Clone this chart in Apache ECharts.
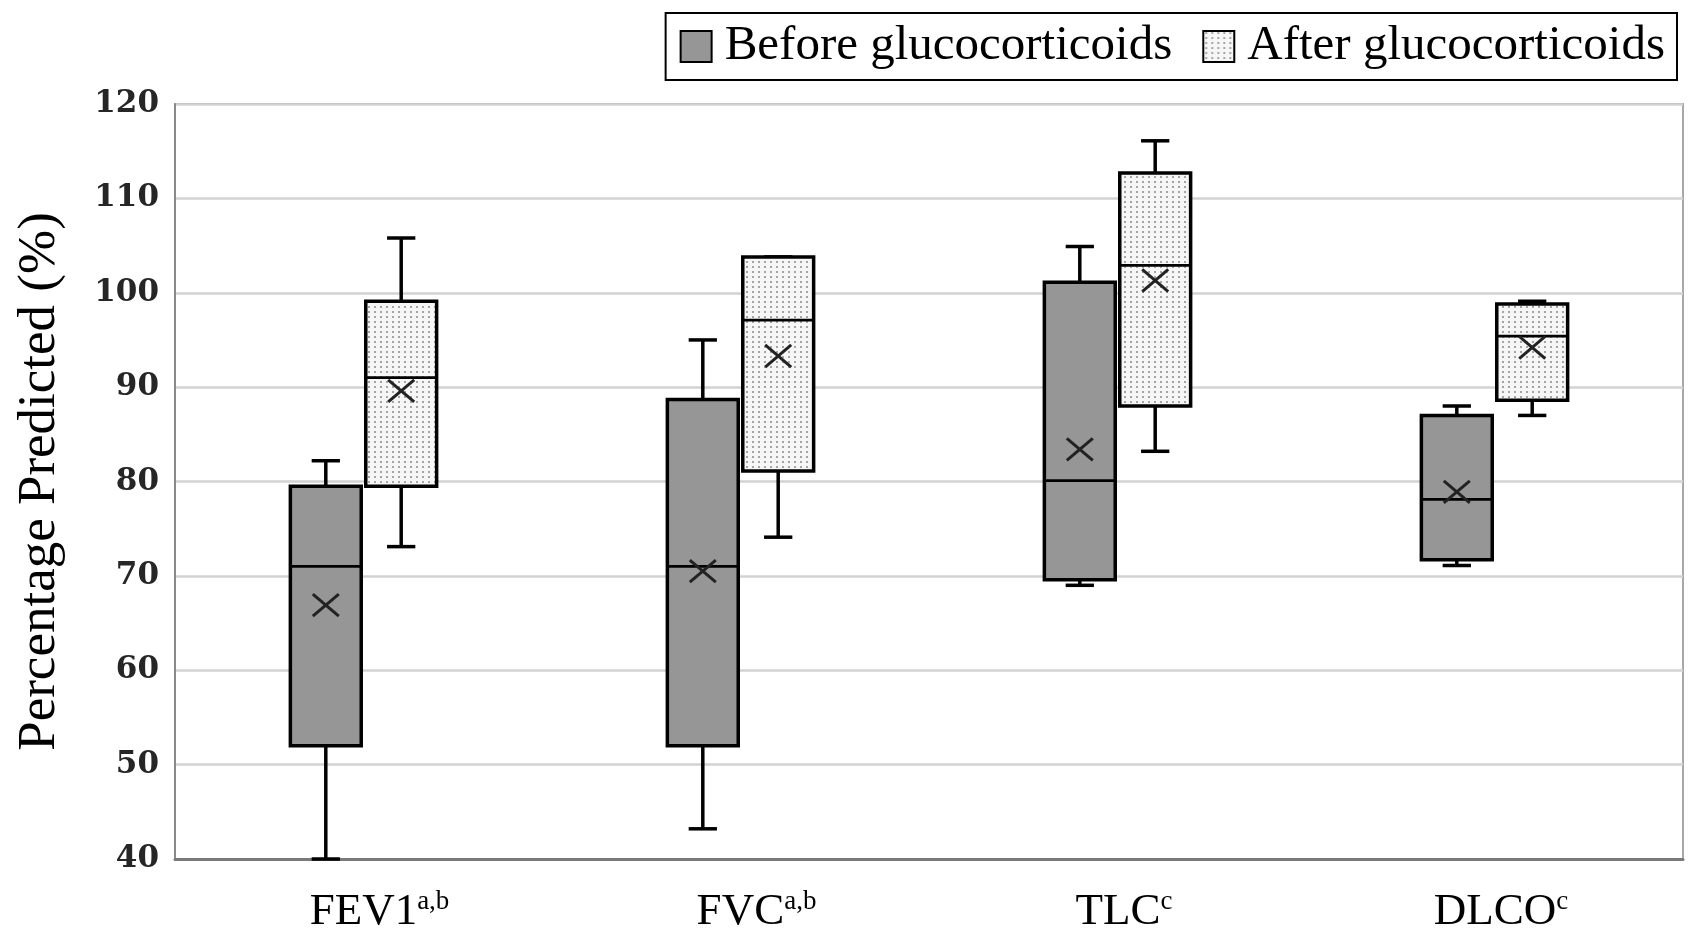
<!DOCTYPE html>
<html>
<head>
<meta charset="utf-8">
<script src="https://cdn.jsdelivr.net/npm/echarts@6/dist/echarts.min.js"></script>
<style>
html,body{margin:0;padding:0;background:#fff;}
#chart{width:1689px;height:929px;}
</style>
</head>
<body>
<div id="chart"></div>
<script>
// ---- data ----
const categories = ['FEV1', 'FVC', 'TLC', 'DLCO'];
const superscripts = ['a,b', 'a,b', 'c', 'c'];
const seriesNames = ['Before glucocorticoids', 'After glucocorticoids'];
const yTicks = [40, 50, 60, 70, 80, 90, 100, 110, 120];
// each row: [min, Q1, median, Q3, max, mean]
const beforeStats = [
  [40.0, 52.0, 71.0, 79.5, 82.2, 66.9],
  [43.2, 52.0, 71.0, 88.7, 95.0, 70.5],
  [69.0, 69.6, 80.1, 101.1, 104.9, 83.4],
  [71.1, 71.7, 78.1, 87.0, 88.0, 78.9]
];
const afterStats = [
  [73.1, 79.5, 91.0, 99.1, 105.8, 89.6],
  [74.1, 81.1, 97.1, 103.8, 103.8, 93.3],
  [83.2, 88.0, 102.9, 112.7, 116.1, 101.3],
  [87.0, 88.6, 95.4, 98.8, 99.1, 94.2]
];

// ---- dotted pattern ----
const pc = document.createElement('canvas');
pc.width = 6; pc.height = 5;
const pctx = pc.getContext('2d');
pctx.fillStyle = '#f6f6f6';
pctx.fillRect(0, 0, 6, 5);
pctx.fillStyle = '#a4a4a4';
pctx.fillRect(2, 1, 2, 2);
const dotPattern = { image: pc, repeat: 'repeat' };
const grayFill = '#969696';

function makeRender(side, fill) {
  return function (params, api) {
    const ci = api.value(0);
    const band = api.size([1, 0])[0];
    const cx = api.coord([ci, 0])[0] + side * band * 0.1;
    const w = band * 0.188;
    const cap = band * 0.075;
    const y = function (v) { return api.coord([ci, v])[1]; };
    const yMin = y(api.value(1)), yQ1 = y(api.value(2)), yMed = y(api.value(3)),
          yQ3 = y(api.value(4)), yMax = y(api.value(5)), yMean = y(api.value(6));
    const ls = { stroke: '#000', lineWidth: 3.5 };
    const xs = 13;
    return {
      type: 'group',
      children: [
        { type: 'line', shape: { x1: cx, y1: yQ3, x2: cx, y2: yMax }, style: ls },
        { type: 'line', shape: { x1: cx, y1: yQ1, x2: cx, y2: yMin }, style: ls },
        { type: 'line', shape: { x1: cx - cap / 2, y1: yMax, x2: cx + cap / 2, y2: yMax }, style: ls },
        { type: 'line', shape: { x1: cx - cap / 2, y1: yMin, x2: cx + cap / 2, y2: yMin }, style: ls },
        { type: 'rect', shape: { x: cx - w / 2, y: yQ3, width: w, height: yQ1 - yQ3 },
          style: { fill: fill, stroke: '#000', lineWidth: 3.5 } },
        { type: 'line', shape: { x1: cx - w / 2, y1: yMed, x2: cx + w / 2, y2: yMed }, style: { stroke: '#000', lineWidth: 2.8 } },
        { type: 'line', shape: { x1: cx - xs, y1: yMean - xs * 0.85, x2: cx + xs, y2: yMean + xs * 0.85 }, style: { stroke: '#222', lineWidth: 3 } },
        { type: 'line', shape: { x1: cx - xs, y1: yMean + xs * 0.85, x2: cx + xs, y2: yMean - xs * 0.85 }, style: { stroke: '#222', lineWidth: 3 } }
      ]
    };
  };
}

function toData(stats) {
  return stats.map(function (s, i) { return [i].concat(s); });
}

const chart = echarts.init(document.getElementById('chart'), null, { renderer: 'canvas' });
const serif = 'Liberation Serif';

chart.setOption({
  animation: false,
  backgroundColor: '#fff',
  grid: { left: 175, right: 6, top: 104, bottom: 70, show: true, borderColor: '#a8a8a8', borderWidth: 2,
          containLabel: false, outerBoundsMode: 'none' },
  legend: {
    right: 12, top: 13,
    padding: [9, 12, 9, 14],
    borderColor: '#000', borderWidth: 2,
    itemWidth: 31, itemHeight: 31, itemGap: 30,
    textStyle: { fontFamily: serif, fontSize: 49, color: '#000', padding: [0, 0, 0, 8] },
    data: [
      { name: seriesNames[0], icon: 'rect', itemStyle: { color: grayFill, borderColor: '#000', borderWidth: 2 } },
      { name: seriesNames[1], icon: 'rect', itemStyle: { color: dotPattern, borderColor: '#000', borderWidth: 2 } }
    ]
  },
  xAxis: {
    type: 'category',
    data: categories,
    axisLine: { show: true, lineStyle: { color: '#7a7a7a', width: 3 } },
    axisTick: { show: false },
    splitLine: { show: false },
    axisLabel: {
      margin: 29,
      formatter: function (v, i) {
        const sup = superscripts[i];
        return '{' + (sup.length > 1 ? 'm2' : 'm1') + '|' + v + '}{s|' + sup + '}';
      },
      rich: {
        m2: { fontFamily: serif, fontSize: 45, color: '#000', padding: [0, 0, 0, 32], lineHeight: 48 },
        m1: { fontFamily: serif, fontSize: 45, color: '#000', padding: [0, 0, 0, 13], lineHeight: 48 },
        s: { fontFamily: serif, fontSize: 27, color: '#000', verticalAlign: 'top', lineHeight: 48, padding: [0, 0, 4, 0] }
      }
    }
  },
  yAxis: {
    type: 'value',
    min: yTicks[0], max: yTicks[yTicks.length - 1], interval: 10,
    name: 'Percentage Predicted (%)',
    nameLocation: 'middle',
    nameGap: 108,
    nameTextStyle: { fontFamily: serif, fontSize: 53, color: '#000' },
    axisLine: { show: true, lineStyle: { color: '#8a8a8a', width: 2 } },
    axisTick: { show: false },
    axisLabel: { margin: 16, fontFamily: 'DejaVu Serif', fontWeight: 'bold', fontSize: 31, color: '#262626' },
    splitLine: { show: true, lineStyle: { color: '#d2d2d2', width: 2.5 } }
  },
  series: [
    {
      name: seriesNames[0], type: 'custom',
      itemStyle: { color: grayFill },
      encode: { x: 0, y: [1, 2, 3, 4, 5, 6] },
      renderItem: makeRender(-1, grayFill),
      data: toData(beforeStats)
    },
    {
      name: seriesNames[1], type: 'custom',
      itemStyle: { color: dotPattern },
      encode: { x: 0, y: [1, 2, 3, 4, 5, 6] },
      renderItem: makeRender(1, dotPattern),
      data: toData(afterStats)
    }
  ]
});
</script>
</body>
</html>
